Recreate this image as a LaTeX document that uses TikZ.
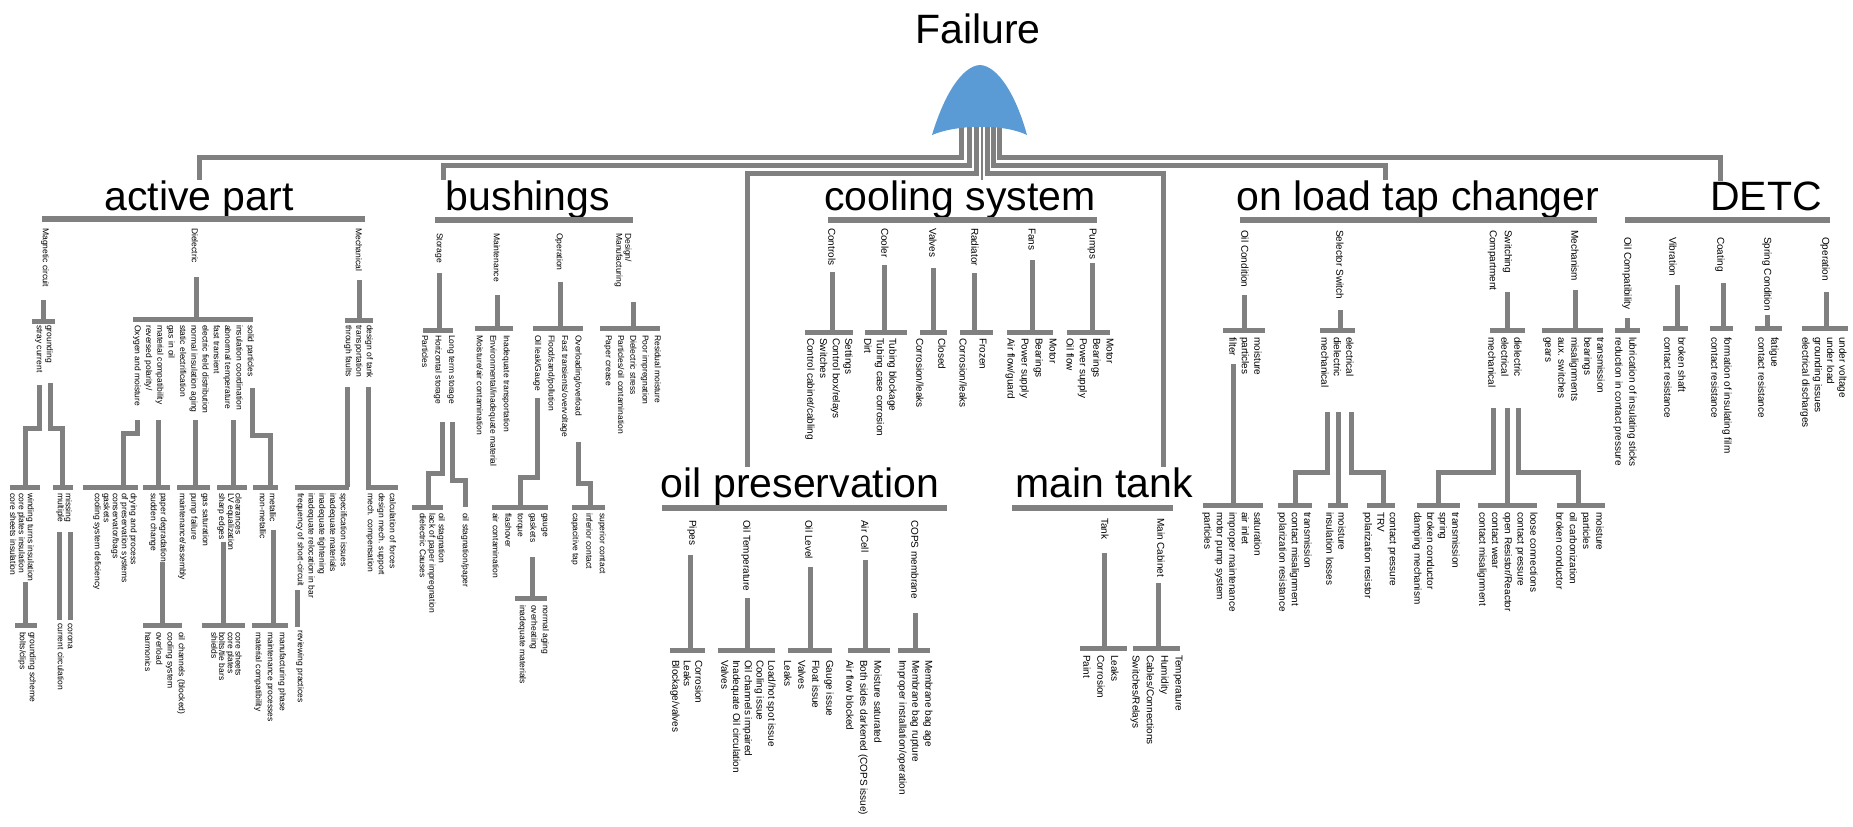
\documentclass[tikz,border=0pt]{standalone}
\usepackage{fontspec}
\setmainfont{Liberation Sans}
\usetikzlibrary{positioning}
\definecolor{wiregray}{RGB}{128,128,128}
\definecolor{gateblue}{RGB}{91,155,213}

\tikzset{
  wire/.style={draw=wiregray, line width=5pt, line join=miter},
  thinwire/.style={draw=wiregray, line width=1.5pt},
  headbar/.style={draw=wiregray, line width=6pt},
  heading/.style={font=\fontsize{41}{45}\selectfont, anchor=base, inner sep=0pt},
  cause/.style={rotate=-90, anchor=west, inner sep=0pt, align=left, font=\fontsize{8.5}{#1}\selectfont},
  cause/.default=11,
  bigcause/.style={rotate=-90, anchor=west, inner sep=0pt, align=left, font=\fontsize{10}{#1}\selectfont},
  bigcause/.default=13,
}

\begin{document}
\begin{tikzpicture}[x=1pt, y=-1pt]
  \useasboundingbox (0,0) rectangle (1853,827);
  % Top event and sub systems
  \node[heading] (top) at (978,43) {Failure};
  \node[heading] (active) at (199,210) {active part};
  \node[heading] (bush) at (528,210) {bushings};
  \node[heading] (cool) at (960,210) {cooling system};
  \node[heading] (oltc) at (1418,210) {on load tap changer};
  \node[heading] (detc) at (1766,210) {DETC};
  \node[heading] (oilp) at (800,497) {oil preservation};
  \node[heading] (tank) at (1104,497) {main tank};
  \coordinate (gate) at (981,125);
  % Links from the gate
  \draw[wire] ([xshift=-20pt]gate) -- ++(0,32) -| (active.north);
  \draw[wire] ([xshift=-12pt]gate) -- ++(0,40) -| ([xshift=-85pt]bush.north);
  \draw[wire] ([xshift=-5pt]gate) -- ++(0,48) -| ([xshift=-53pt]oilp.north);
  \draw[thinwire] ([xshift=1pt]gate) -- ([xshift=22pt]cool.north);
  \draw[wire] ([xshift=6pt]gate) -- ++(0,48) -| ([xshift=59pt]tank.north);
  \draw[wire] ([xshift=12pt]gate) -- ++(0,40) -| ([xshift=-33pt]oltc.north);
  \draw[wire] ([xshift=18pt]gate) -- ++(0,32) -| ([xshift=-46pt]detc.north);
  % OR gate
  \fill[gateblue] (932,135) .. controls (944,95) and (962,66) .. (980,65) .. controls (998,66) and (1016,95) .. (1027,135) .. controls (1005,124) and (958,124) .. (932,135);

  % active part
  \draw[headbar] (42,219) -- (365,219);
  \node[cause] (magnet) at (45,228) {Magnetic circuit};
  \node[cause] (dielec) at (195,228) {Dielectric};
  \node[cause] (mechan) at (359,228) {Mechanical};
  % magnetic circuit
  \draw[wire] (43,300) -- (43,321) (32,321) -- (55,321);
  \node[cause=10] (magA) at (44,325) {grounding\\stray current};
  \draw[wire] (39,385) -- (39,428) -- (25,428) -- (25,487) (10,487) -- (40,487);
  \node[cause=7.5] (magB) at (22,493) {winding turns insulation\\core plates insulation\\core sheets insulation};
  \draw[wire] (25,582) -- (25,625) (15,625) -- (37,625);
  \node[cause=10] (magC) at (27,632) {grounding scheme\\bolts/clips};
  \draw[wire] (50,383) -- (50,428) -- (62,428) -- (62,487) (53,487) -- (73,487);
  \node[cause=8] (magD) at (64,493) {missing\\multiple};
  \draw[wire] (59,532) -- (59,620) (70,532) -- (70,620);
  \node[cause=10] (magE) at (65,623) {corona\\current circulation};
  % dielectric
  \draw[wire] (196,277) -- (196,319) (133,319) -- (253,319);
  \node[cause=11.3] (dielA) at (193.5,325) {solid particles\\insulation coordination\\abnormal temperature\\fast transient\\electric field distribution\\normal insulation aging\\static electrification\\gas in oil\\material compatibility\\reversed polarity/\\Oxygen and moisture};
  \draw[wire] (137,420) -- (137,433) -- (123,433) -- (123,487) (83,487) -- (138,487);
  \node[cause=9] (dielB) at (115,493) {drying and process\\of preservation systems\\conservator/bags\\gaskets\\cooling system deficiency};
  \draw[wire] (158,420) -- (158,487) (143,487) -- (170,487);
  \node[cause=10] (dielC) at (158,493) {paper degradation\\sudden change};
  \draw[wire] (162,562) -- (162,625) (143,625) -- (182,625);
  \node[cause=11.3] (dielD) at (165,632) {oil channels (blocked)\\cooling system\\overload\\harmonics};
  \draw[wire] (195,420) -- (195,487) (177,487) -- (210,487);
  \node[cause=11.5] (dielE) at (193.5,493) {gas saturation\\pump failure\\maintenance/assembly};
  \draw[wire] (233,420) -- (233,487) (217,487) -- (247,487);
  \node[cause=7.5] (dielF) at (229.5,493) {clearances\\LV equalization\\sharp edges};
  \draw[wire] (223,542) -- (223,625) (202,625) -- (245,625);
  \node[cause=7.7] (dielG) at (226.5,632) {core sheets\\core plates\\bolts/tie bars\\shields};
  \draw[wire] (252,388) -- (252,435) -- (270,435) -- (270,487) (253,487) -- (278,487);
  \node[cause=10] (dielH) at (268,493) {metallic\\non-metallic};
  \draw[wire] (273,530) -- (273,625) (252,625) -- (288,625);
  \node[cause=12] (dielI) at (270,632) {manufacturing phase\\maintenance processes\\material compatibility};
  % mechanical
  \draw[wire] (359,280) -- (359,320) (345,320) -- (373,320);
  \node[cause=10.5] (mechA) at (358.5,325) {design of tank\\transportation\\through faults};
  \draw[wire] (347,387) -- (347,487) (295,487) -- (349,487);
  \node[cause=10.75] (mechB) at (321.5,493) {specification issues\\inadequate materials\\inadequate tightening\\inadequate relocation in bar\\frequency of short-circuit};
  \draw[wire] (297,590) -- (297,627);
  \node[cause] (mechC) at (300,630) {reviewing practices};
  \draw[wire] (368,387) -- (368,487) (366,487) -- (398,487);
  \node[cause=11] (mechD) at (381,493) {calculation of forces\\design mech. support\\mech. compensation};

  % bushings
  \draw[headbar] (435,220) -- (633,220);
  \node[cause] (bstor) at (439,233) {Storage};
  \node[cause] (bmaint) at (497,233) {Maintenance};
  \node[cause] (boper) at (559,233) {Operation};
  \node[cause=9] (bdesign) at (623,233) {Design/\\Manufacturing};
  % storage
  \draw[wire] (439,273) -- (439,330) (423,330) -- (453,330);
  \node[cause=13.5] (bstA) at (438.5,335) {Long term storage\\Horizontal storage\\Particles};
  \draw[wire] (442,422) -- (442,473) -- (428,473) -- (428,507) (412,507) -- (443,507);
  \node[cause=9.5] (bstB) at (432.5,513) {oil stagnation\\lack of paper impregnation\\dielectric Causes};
  \draw[wire] (452,422) -- (452,480) -- (465,480) -- (465,507);
  \node[cause] (bstC) at (465,513) {oil stagnation/paper};
  % maintenance
  \draw[wire] (497,295) -- (497,328) (475,328) -- (513,328);
  \node[cause=13.5] (bmA) at (493.5,335) {Inadequate transportation\\Environmental/inadequate material\\Moisture/air contamination};
  % operation
  \draw[wire] (560,282) -- (560,328) (533,328) -- (583,328);
  \node[cause=13.5] (boA) at (557.5,335) {Overloading/overload\\Fast transients/overvoltage\\Flood/sand/pollution\\Oil leak/Gauge};
  \draw[wire] (537,398) -- (537,477) -- (520,477) -- (520,507) (492,507) -- (548,507);
  \node[cause=12.5] (boB) at (520,513) {gauge\\gaskets\\torque\\flashover\\air contamination};
  \draw[wire] (532,557) -- (532,598) (515,598) -- (547,598);
  \node[cause=11.5] (boC) at (533.5,605) {normal aging\\overheating\\inadequate materials};
  \draw[wire] (578,442) -- (578,483) -- (590,483) -- (590,507) (572,507) -- (605,507);
  \node[cause=13.5] (boD) at (588.5,513) {superior contact\\inferior contact\\capacitive tap};
  % design
  \draw[wire] (633,302) -- (633,328) (600,328) -- (660,328);
  \node[cause=12.25] (bdA) at (632.5,335) {Residual moisture\\Poor impregnation\\Dielectric stress\\Particles/oil contamination\\Paper crease};

  % cooling system
  \draw[headbar] (828,220) -- (1097,220);
  \node[bigcause] (cctrl) at (832,228) {Controls};
  \node[bigcause] (ccool) at (885,228) {Cooler};
  \node[bigcause] (cvalve) at (933,228) {Valves};
  \node[bigcause] (cradi) at (975,228) {Radiator};
  \node[bigcause] (cfan) at (1032,228) {Fans};
  \node[bigcause] (cpump) at (1092,228) {Pumps};
  \draw[wire] (832,272) -- (832,332) (805,332) -- (853,332);
  \node[bigcause=12.7] (ccA) at (829,338) {Settings\\Control box/relays\\Switches\\Control cabinet/cabling};
  \draw[wire] (884,265) -- (884,332) (865,332) -- (907,332);
  \node[bigcause=12.5] (ccB) at (880.5,338) {Tubing blockage\\Tubing case corrosion\\Dirt};
  \draw[wire] (933,268) -- (933,332) (920,332) -- (947,332);
  \node[bigcause=22] (ccC) at (931,338) {Closed\\Corrosion/leaks};
  \draw[wire] (974,273) -- (974,332) (960,332) -- (993,332);
  \node[bigcause=20] (ccD) at (973,338) {Frozen\\Corrosion/leaks};
  \draw[wire] (1032,260) -- (1032,332) (1007,332) -- (1053,332);
  \node[bigcause=14] (ccE) at (1031,338) {Motor\\Bearings\\Power supply\\Air flow/guard};
  \draw[wire] (1092,263) -- (1092,332) (1067,332) -- (1110,332);
  \node[bigcause=13.3] (ccF) at (1090,338) {Motor\\Bearings\\Power supply\\Oil flow};

  % oil preservation
  \draw[headbar] (662,508) -- (947,508);
  \node[bigcause] (opipe) at (692,520) {Pipes};
  \node[bigcause] (otemp) at (746,520) {Oil Temperature};
  \node[bigcause] (olevel) at (809,520) {Oil Level};
  \node[bigcause] (oair) at (865,520) {Air Cell};
  \node[bigcause] (ocops) at (915,520) {COPS membrane};
  \draw[wire] (690,555) -- (690,650) (670,650) -- (705,650);
  \node[bigcause=11.5] (opA) at (686.5,660) {Corrosion\\Leaks\\Blockage/valves};
  \draw[wire] (747,598) -- (747,650) (718,650) -- (775,650);
  \node[bigcause=11.75] (opB) at (748.5,660) {Load/hot spot issue\\Cooling issue\\Oil channels impaired\\Inadequate Oil circulation\\Valves};
  \draw[wire] (810,567) -- (810,650) (788,650) -- (832,650);
  \node[bigcause=14] (opC) at (809,660) {Gauge issue\\Float issue\\Valves\\Leaks};
  \draw[wire] (865,560) -- (865,650) (848,650) -- (890,650);
  \node[bigcause=14] (opD) at (864,660) {Moisture saturated\\Both sides darkened (COPS issue)\\Air flow blocked};
  \draw[wire] (915,613) -- (915,650) (898,650) -- (930,650);
  \node[bigcause=13] (opE) at (915,660) {Membrane bag age\\Membrane bag rupture\\Improper installation/operation};

  % main tank
  \draw[headbar] (1012,508) -- (1173,508);
  \node[bigcause] (mtank) at (1105,518) {Tank};
  \node[bigcause] (mcab) at (1161,518) {Main Cabinet};
  \draw[wire] (1104,553) -- (1104,648) (1080,648) -- (1127,648);
  \node[bigcause=14] (mtA) at (1101,655) {Leaks\\Corrosion\\Paint};
  \draw[wire] (1158,583) -- (1158,648) (1133,648) -- (1180,648);
  \node[bigcause=14.3] (mtB) at (1156.5,655) {Temperature\\Humidity\\Cables/Connections\\Switches/Relays};

  % on load tap changer
  \draw[headbar] (1240,220) -- (1597,220);
  \node[bigcause] (tcoil) at (1245,230) {Oil Condition};
  \node[bigcause] (tcsel) at (1340,230) {Selector Switch};
  \node[bigcause=15] (tcswi) at (1500,230) {Switching\\Compartment};
  \node[bigcause] (tcmec) at (1575,230) {Mechanism};
  % oil condition
  \draw[wire] (1244,295) -- (1244,330) (1223,330) -- (1265,330);
  \node[bigcause=12.5] (toA) at (1245.5,337) {moisture\\particles\\filter};
  \draw[wire] (1233,364) -- (1233,505) (1203,505) -- (1263,505);
  \node[bigcause=12.5] (toB) at (1232,512) {saturation\\air inlet\\improper maintenance\\motor pump system\\particles};
  % selector switch
  \draw[wire] (1340,310) -- (1340,330) (1320,330) -- (1355,330);
  \node[bigcause=12.5] (tsA) at (1337.5,337) {electrical\\dielectric\\mechanical};
  \draw[wire] (1327,412) -- (1327,472) -- (1295,472) -- (1295,505) (1278,505) -- (1312,505);
  \node[bigcause=12.5] (tsB) at (1294.5,512) {transmission\\contact misalignment\\polarization resistance};
  \draw[wire] (1338,412) -- (1338,505) (1328,505) -- (1348,505);
  \node[bigcause=12] (tsC) at (1336,512) {moisture\\insulation losses};
  \draw[wire] (1351,412) -- (1351,472) -- (1383,472) -- (1383,505) (1367,505) -- (1395,505);
  \node[bigcause=12.5] (tsD) at (1379.5,512) {contact pressure\\TRV\\polarization resistor};
  % switching compartment
  \draw[wire] (1507,292) -- (1507,330) (1490,330) -- (1525,330);
  \node[bigcause=13] (twA) at (1505,337) {dielectric\\electrical\\mechanical};
  \draw[wire] (1493,408) -- (1493,472) -- (1438,472) -- (1438,505) (1417,505) -- (1460,505);
  \node[bigcause=12.7] (twB) at (1436,512) {transmission\\spring\\broken conductor\\damping mechanism};
  \draw[wire] (1507,408) -- (1507,505) (1478,505) -- (1537,505);
  \node[bigcause=12.75] (twC) at (1507.5,512) {loose connections\\contact pressure\\open Resistor/Reactor\\contact wear\\contact misalignment};
  \draw[wire] (1518,408) -- (1518,472) -- (1578,472) -- (1578,505) (1557,505) -- (1605,505);
  \node[bigcause=13.3] (twD) at (1580,512) {moisture\\particles\\oil carbonization\\broken conductor};
  % mechanism
  \draw[wire] (1575,290) -- (1575,330) (1542,330) -- (1603,330);
  \node[bigcause=13] (tmA) at (1574,337) {transmission\\bearings\\misalignments\\aux. switches\\gears};

  % DETC
  \draw[headbar] (1625,220) -- (1830,220);
  \node[bigcause] (doil) at (1627,237) {Oil Compatibility};
  \node[bigcause] (dvib) at (1673,237) {Vibration};
  \node[bigcause] (dcoat) at (1720,237) {Coating};
  \node[bigcause] (dspr) at (1767,237) {Spring Condition};
  \node[bigcause] (dopr) at (1825,237) {Operation};
  \draw[wire] (1627,318) -- (1627,330) (1615,330) -- (1640,330);
  \node[bigcause=14] (doA) at (1625,337) {lubrication of insulating sticks\\reduction in contact pressure};
  \draw[wire] (1677,285) -- (1677,328) (1663,328) -- (1688,328);
  \node[bigcause=14] (dvA) at (1675,337) {broken shaft\\contact resistance};
  \draw[wire] (1723,283) -- (1723,328) (1710,328) -- (1733,328);
  \node[bigcause=13] (dcA) at (1721.5,337) {formation of insulating film\\contact resistance};
  \draw[wire] (1767,315) -- (1767,328) (1755,328) -- (1782,328);
  \node[bigcause=13] (dsA) at (1768.5,337) {fatigue\\contact resistance};
  \draw[wire] (1826,292) -- (1826,328) (1802,328) -- (1848,328);
  \node[bigcause=12.3] (dpA) at (1823.5,337) {under voltage\\under load\\grounding issues\\electrical discharges};
\end{tikzpicture}
\end{document}
